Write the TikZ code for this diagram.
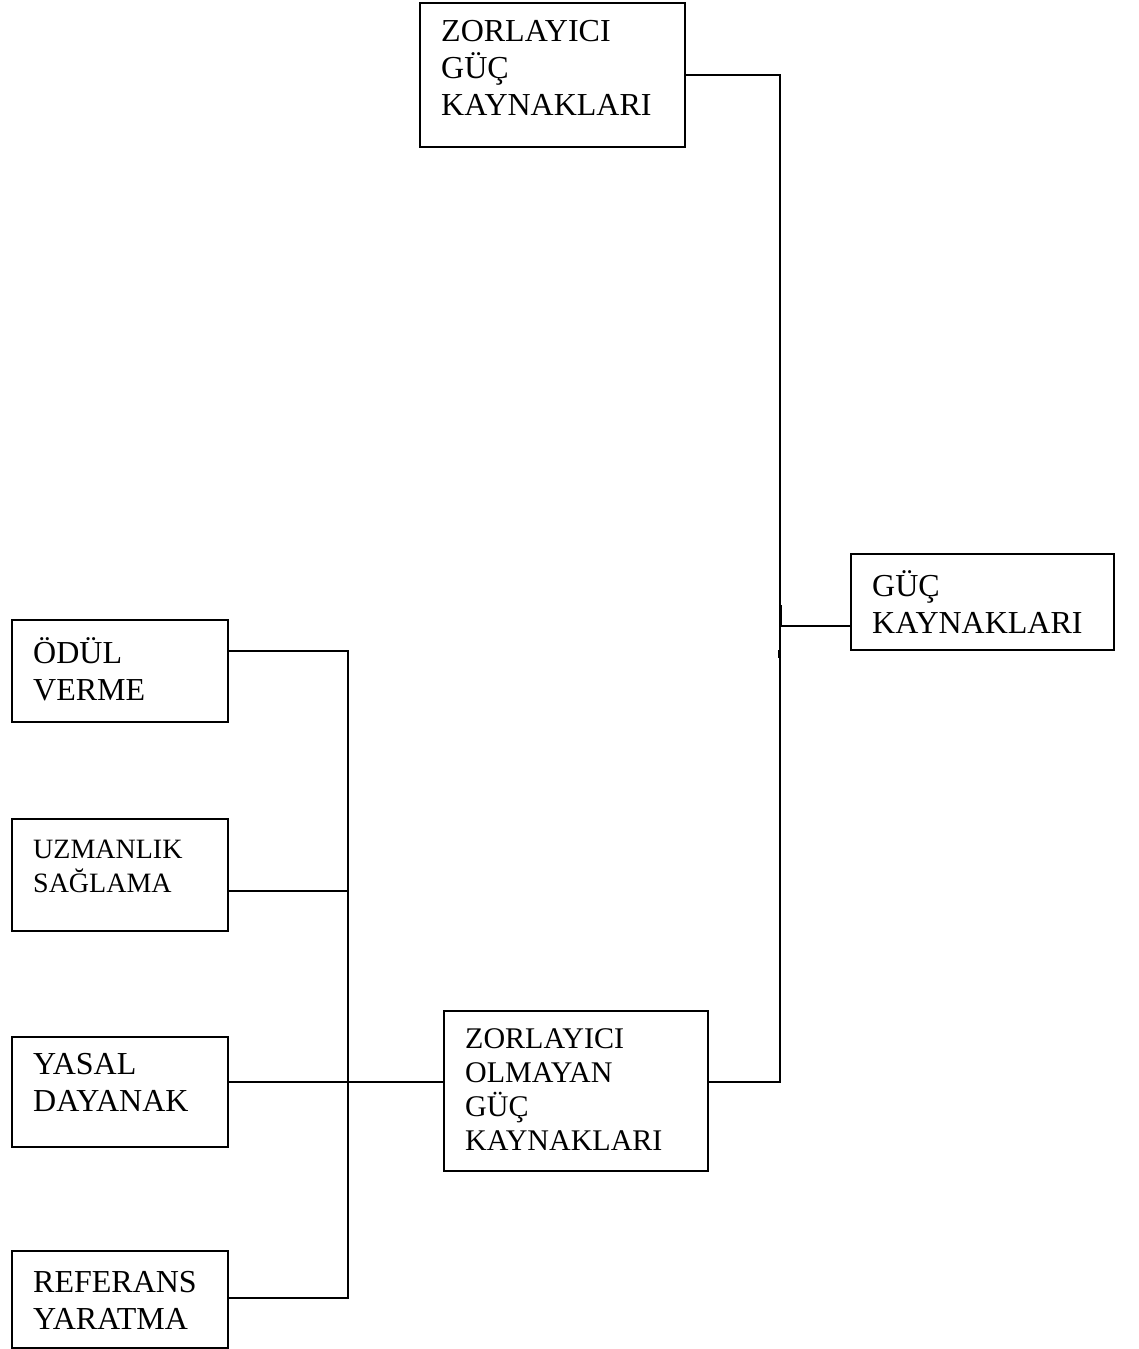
\documentclass[tikz,border=0pt]{standalone}
\usepackage{fontspec}
\setmainfont{Liberation Serif}
\begin{document}
\begin{tikzpicture}[x=1pt,y=-1pt,
  box/.style={draw,line width=1.6pt,rectangle,inner sep=0pt},
  txt/.style={anchor=west,align=left,inner sep=0pt},
  conn/.style={line width=1.6pt},
  big/.style={font=\fontsize{32}{37}\selectfont},
  mid/.style={font=\fontsize{30}{34}\selectfont},
  sml/.style={font=\fontsize{28}{34}\selectfont}]
\useasboundingbox[fill=white] (0,0) rectangle (1138,1349);
% boxes
\node[box,minimum width=265pt,minimum height=144pt] (ztop) at (552.5,75) {};
\node[box,minimum width=263pt,minimum height=96pt] (guc) at (982.5,602) {};
\node[box,minimum width=216pt,minimum height=102pt] (odul) at (120,671) {};
\node[box,minimum width=216pt,minimum height=112pt] (uzm) at (120,875) {};
\node[box,minimum width=216pt,minimum height=110pt] (yas) at (120,1092) {};
\node[box,minimum width=216pt,minimum height=97pt] (ref) at (120,1299.5) {};
\node[box,minimum width=264pt,minimum height=160pt] (olm) at (576,1091) {};
% texts
\node[txt,big] (tztop) at (441,68) {ZORLAYICI\\GÜÇ\\KAYNAKLARI};
\node[txt,big] (tguc) at (872,602) {GÜÇ\\KAYNAKLARI};
\node[txt,big] (todul) at (33,669) {ÖDÜL\\VERME};
\node[txt,sml] (tuzm) at (33,866) {UZMANLIK\\SAĞLAMA};
\node[txt,big] (tyas) at (33,1082) {YASAL\\DAYANAK};
\node[txt,big] (tref) at (33,1300) {REFERANS\\YARATMA};
\node[txt,mid] (tolm) at (465,1090) {ZORLAYICI\\OLMAYAN\\GÜÇ\\KAYNAKLARI};
% junction coordinates
\coordinate (J) at (780,626);
\coordinate (Jb) at (780,1082);
\coordinate (Lt) at (348,651);
\coordinate (Lu) at (348,891);
\coordinate (Ly) at (348,1082);
\coordinate (Lb) at (348,1298);
% connectors
\draw[conn] (ztop.east) -| (J);
\draw[conn] (J) -- (Jb) -- (Jb -| olm.east);
\draw[conn] (J) -- (J -| guc.west);
\draw[conn] (Lt -| odul.east) -- (Lt) -- (Lb) -- (Lb -| ref.east);
\draw[conn] (Lu -| uzm.east) -- (Lu);
\draw[conn] (Ly -| yas.east) -- (Ly -| olm.west);
% small marks on the vertical line
\draw[line width=2.6pt] (781,605) -- (781,626);
\draw[line width=2.6pt] (779,650) -- (779,658);
\end{tikzpicture}
\end{document}
